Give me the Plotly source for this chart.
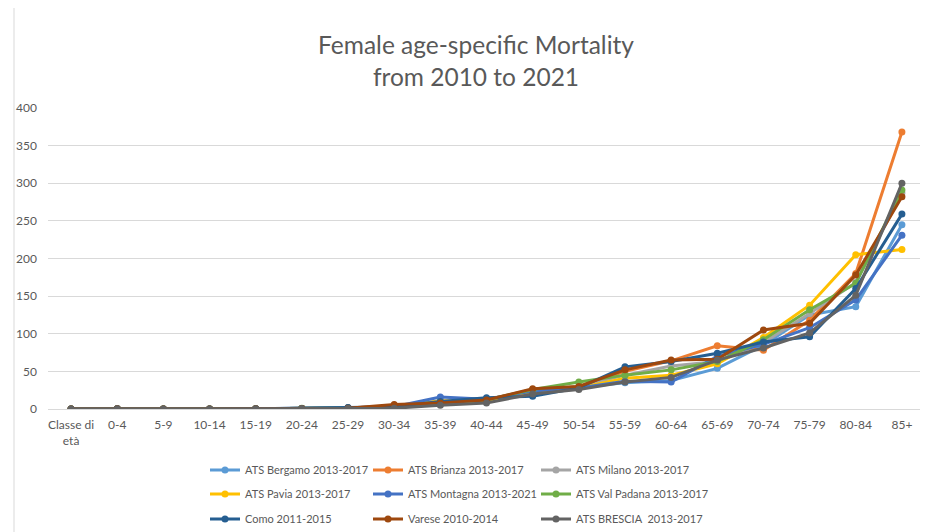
import plotly.graph_objects as go

categories = ["Classe di<br>età", "0-4", "5-9", "10-14", "15-19", "20-24", "25-29", "30-34",
              "35-39", "40-44", "45-49", "50-54", "55-59", "60-64", "65-69", "70-74",
              "75-79", "80-84", "85+"]

bergamo = [0, 0.3, 0.1, 0.1, 0.2, 0.6, 1.2, 3, 8, 11, 22, 29, 35, 38, 54, 85, 125, 136, 245]
brianza = [0, 0.3, 0.1, 0.1, 0.2, 0.6, 1.3, 4, 10, 12, 25, 30, 50, 64, 84, 78, 118, 180, 368]
milano = [0, 0.3, 0.1, 0.1, 0.2, 0.6, 1.2, 3, 9, 11, 24, 30, 45, 57, 63, 88, 127, 168, 287]
pavia = [0, 0.3, 0.1, 0.1, 0.2, 0.6, 1.2, 3, 11, 10, 23, 28, 41, 45, 60, 95, 138, 205, 212]
montagna = [0, 0.3, 0.1, 0.1, 0.2, 0.6, 1.5, 3, 16, 13, 24, 28, 37, 36, 70, 86, 108, 145, 231]
val_padana = [0, 0.3, 0.1, 0.1, 0.2, 1.0, 1.2, 3, 9, 12, 26, 36, 45, 52, 63, 92, 132, 167, 291]
como = [0, 0.3, 0.1, 0.1, 0.2, 0.6, 2.0, 3, 10, 15, 17, 28, 56, 63, 74, 89, 96, 160, 259]
varese = [0, 0.3, 0.1, 0.1, 0.2, 0.6, 1.0, 6, 8, 12, 27, 30, 52, 65, 66, 105, 114, 178, 282]
brescia = [0, 0.3, 0.1, 0.1, 0.2, 0.5, 0.8, 1, 5, 8, 20, 26, 36, 42, 65, 81, 101, 151, 300]

y_ticks = [0, 50, 100, 150, 200, 250, 300, 350, 400]

series_names = ["ATS Bergamo 2013-2017", "ATS Brianza 2013-2017", "ATS Milano 2013-2017",
                "ATS Pavia 2013-2017", "ATS Montagna 2013-2021", "ATS Val Padana 2013-2017",
                "Como 2011-2015", "Varese 2010-2014", "ATS BRESCIA  2013-2017"]
series_values = [bergamo, brianza, milano, pavia, montagna, val_padana, como, varese, brescia]
series_colors = ["#5B9BD5", "#ED7D31", "#A5A5A5", "#FFC000", "#4472C4", "#70AD47",
                 "#255E91", "#9E480E", "#636363"]

FONT = "Lato"
TXT = "#595959"
FIG_W, FIG_H = 928, 532
OFF = 8  # page body margin offset of the rendered figure
# plot area in screen pixels (reference): left 48, right 925, top 108, bottom 409
L = 48 - OFF
R = FIG_W - (925 - OFF)
T = 108 - OFF
B = FIG_H - (409 - OFF)
H = FIG_H - T - B
W = FIG_W - L - R

def cx(p):  # screen px -> container fraction
    return (p - OFF) / FIG_W

def cy(p):
    return 1 - (p - OFF) / FIG_H

def px(p):  # screen px -> paper fraction
    return (p - OFF - L) / W

def py(p):
    return (FIG_H - B - (p - OFF)) / H

# legend grid: 3 columns x 3 rows (screen pixel anchors)
leg_cols = [197, 360, 528]
leg_rows = [470, 494, 519]

fig = go.Figure()
layout_legends = {}
for i, (name, vals, color) in enumerate(zip(series_names, series_values, series_colors)):
    key = "legend" if i == 0 else f"legend{i + 1}"
    fig.add_trace(go.Scatter(
        x=categories, y=vals, name=name, mode="lines+markers",
        line=dict(color=color, width=3),
        marker=dict(color=color, size=7),
        legend=key,
    ))
    r, c = divmod(i, 3)
    layout_legends[key] = dict(
        x=cx(leg_cols[c] + OFF), y=cy(leg_rows[r]),
        xref="container", yref="container",
        xanchor="left", yanchor="middle",
        font=dict(family=FONT, size=11, color=TXT),
        bgcolor="rgba(0,0,0,0)", itemwidth=30,
    )

fig.update_layout(
    width=FIG_W, height=FIG_H,
    margin=dict(l=L, r=R, t=T, b=B, autoexpand=False),
    paper_bgcolor="white", plot_bgcolor="white",
    title=dict(text="Female age-specific Mortality<br>from 2010 to 2021",
               x=cx(476), xanchor="center", xref="container",
               y=1 - 46 / FIG_H, yanchor="middle",
               font=dict(family=FONT, size=24.5, color=TXT)),
    showlegend=True,
    xaxis=dict(type="category", range=[-0.5, len(categories) - 0.5],
               showgrid=False, showline=False, zeroline=False,
               ticks="", tickfont=dict(family=FONT, size=12, color=TXT),
               ticklabelstandoff=7),
    yaxis=dict(range=[0, 400], tickvals=y_ticks, showgrid=True,
               gridcolor="#D9D9D9", gridwidth=1, zeroline=True,
               zerolinecolor="#D9D9D9", zerolinewidth=1, showline=False,
               ticks="", tickfont=dict(family=FONT, size=12, color=TXT),
               ticklabelstandoff=10),
    shapes=[dict(type="rect", xref="paper", yref="paper",
                 x0=px(14), x1=px(960), y0=py(560), y1=py(0),
                 line=dict(color="#D9D9D9", width=1), fillcolor="rgba(0,0,0,0)",
                 layer="below")],
    **layout_legends,
)

fig.write_html("out.html")
